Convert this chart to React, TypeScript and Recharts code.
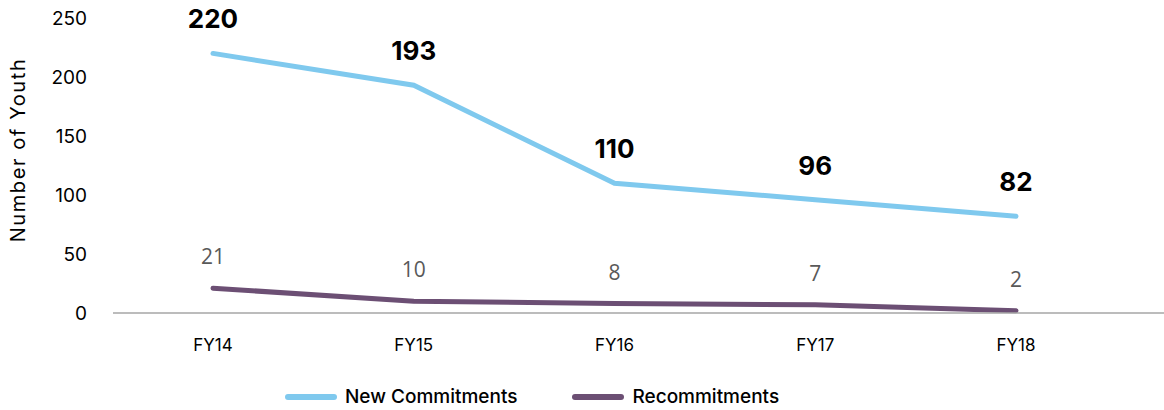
import React from "react";
import {
  LineChart,
  Line,
  XAxis,
  YAxis,
  Legend,
  LabelList,
} from "recharts";

// Fiscal years on the x axis
const years = ["FY14", "FY15", "FY16", "FY17", "FY18"];
// Youth counts per year
const newCommitments = [220, 193, 110, 96, 82];
const recommitments = [21, 10, 8, 7, 2];
const yTicks = [0, 50, 100, 150, 200, 250];

const BLUE = "#7FC9EE";
const PURPLE = "#6C4F74";
const FONT = "Inter, 'Open Sans', sans-serif";
const LABEL_FONT = "'Open Sans', 'Noto Sans', sans-serif";

const chartData = years.map((year, i) => ({
  year,
  newCommitments: newCommitments[i],
  recommitments: recommitments[i],
}));

const legendItems = [
  { name: "New Commitments", color: BLUE },
  { name: "Recommitments", color: PURPLE },
];

const CustomLegend = () => (
  <div
    style={{
      display: "flex",
      justifyContent: "flex-start",
      alignItems: "center",
      fontFamily: FONT,
      fontSize: 19,
      fontWeight: 500,
      color: "#000",
      marginTop: 20,
      paddingLeft: 285,
    }}
  >
    {legendItems.map((item, i) => (
      <div
        key={item.name}
        style={{
          display: "flex",
          alignItems: "center",
          marginLeft: i === 0 ? 0 : 55,
        }}
      >
        <span
          style={{
            display: "inline-block",
            width: 52,
            height: 6,
            borderRadius: 3,
            background: item.color,
            marginRight: 8,
          }}
        />
        <span>{item.name}</span>
      </div>
    ))}
  </div>
);

const YLabel = () => (
  <text
    x={25}
    y={150}
    transform="rotate(-90, 25, 150)"
    textAnchor="middle"
    fontFamily={FONT}
    fontSize={20}
    letterSpacing={1.6}
    fill="#000"
  >
    Number of Youth
  </text>
);

const App: React.FC = () => {
  return (
    <div style={{ position: "absolute", left: 0, top: 0, background: "#fff" }}>
      <LineChart
        width={1164}
        height={410}
        data={chartData}
        margin={{ top: 18, right: 0, bottom: 6, left: 0 }}
      >
        <XAxis
          dataKey="year"
          axisLine={{ stroke: "#A6A6A6", strokeWidth: 1.5 }}
          tickLine={false}
          tick={{ fontFamily: FONT, fontSize: 17, fill: "#000" }}
          tickMargin={20}
          height={52}
          padding={{ left: 100, right: 148 }}
        />
        <YAxis
          domain={[0, 250]}
          ticks={yTicks}
          width={113}
          axisLine={false}
          tickLine={false}
          tickSize={0}
          tickMargin={26}
          tick={{ fontFamily: FONT, fontSize: 19, fill: "#000" }}
          label={<YLabel />}
        />
        <Legend
          verticalAlign="bottom"
          height={39}
          content={<CustomLegend />}
        />
        <Line
          dataKey="newCommitments"
          name="New Commitments"
          stroke={BLUE}
          strokeWidth={5}
          strokeLinecap="round"
          dot={false}
          isAnimationActive={false}
        >
          <LabelList
            dataKey="newCommitments"
            position="top"
            offset={25}
            style={{ fontFamily: FONT, fontSize: 26, fontWeight: 700, fill: "#000" }}
          />
        </Line>
        <Line
          dataKey="recommitments"
          name="Recommitments"
          stroke={PURPLE}
          strokeWidth={5}
          strokeLinecap="round"
          dot={false}
          isAnimationActive={false}
        >
          <LabelList
            dataKey="recommitments"
            position="top"
            offset={24}
            style={{ fontFamily: LABEL_FONT, fontSize: 21, fill: "#595959" }}
          />
        </Line>
      </LineChart>
    </div>
  );
};

export default App;
